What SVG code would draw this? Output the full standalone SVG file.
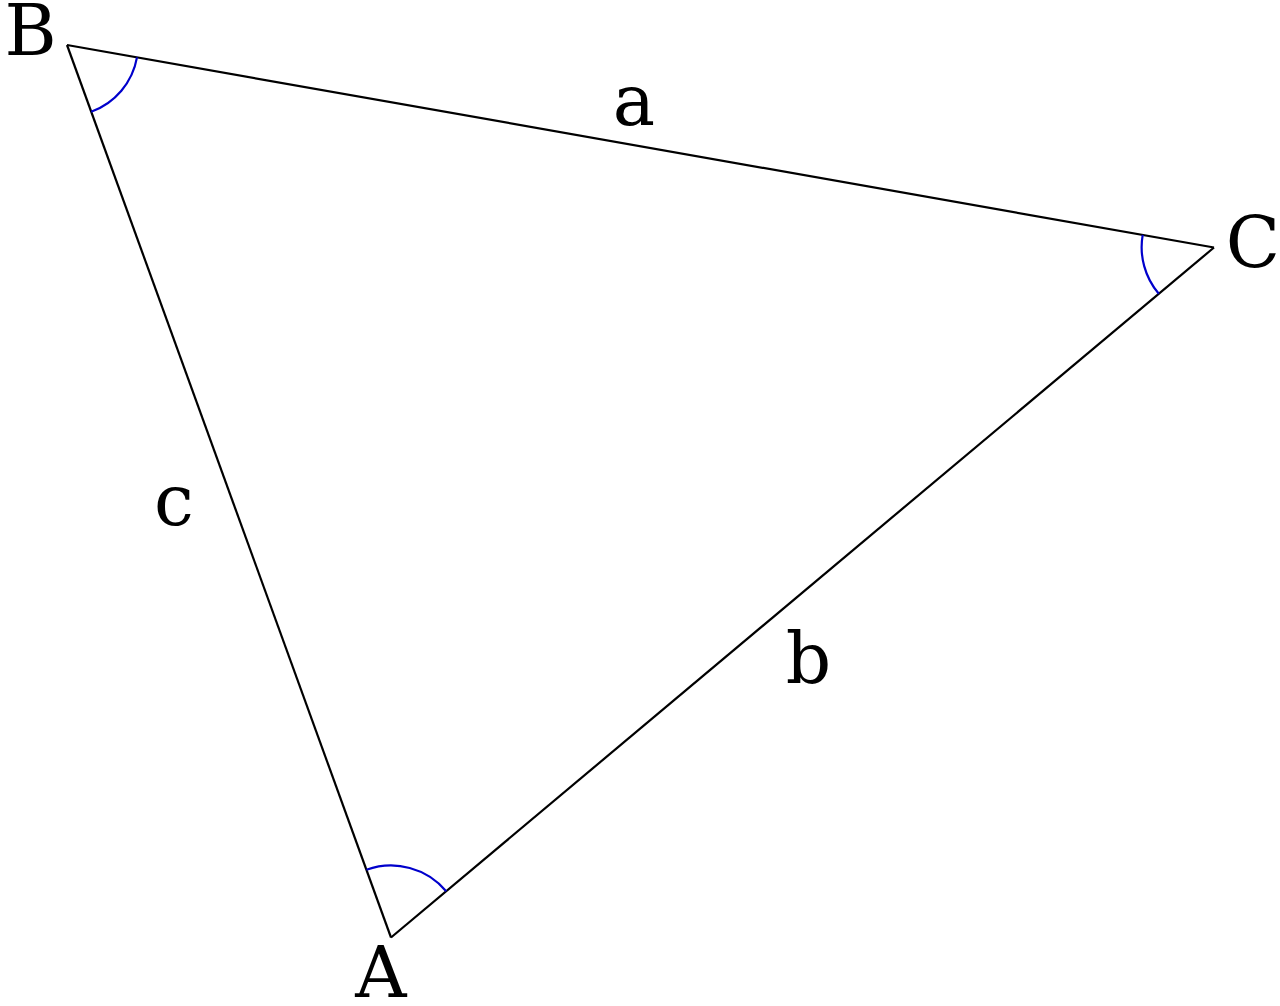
<svg xmlns="http://www.w3.org/2000/svg" width="1280" height="1006" viewBox="0 0 1280 1006">
<style>
.edge{fill:none;stroke:#000;stroke-width:2.2;stroke-linejoin:miter}
.ang{fill:none;stroke:#0000cc;stroke-width:2.2}
.lbl{font-family:"DejaVu Serif",serif;font-size:71px;fill:#000}
</style>
<rect width="1280" height="1006" fill="#fff"/>
<g id="connectors">
<path class="edge" d="M67,45 L1214,247.5"/>
<path class="edge" d="M1214,247.5 L391,937.5"/>
<path class="edge" d="M391,937.5 L67,45"/>
</g>
<g id="angle-B"><path class="ang" d="M137,57.4 A71,71 0 0 1 91.2,111.7"/></g>
<g id="angle-C"><path class="ang" d="M1142.7,234.9 A72,72 0 0 0 1158.8,293.8"/></g>
<g id="angle-A"><path class="ang" d="M366.5,869.8 A72,72 0 0 1 446.2,891.2"/></g>
<g id="node-B"><text class="lbl" x="30.5" y="55" text-anchor="middle">B</text></g>
<g id="node-C"><text class="lbl" x="1253" y="267" text-anchor="middle">C</text></g>
<g id="node-A"><text class="lbl" x="381" y="997" text-anchor="middle">A</text></g>
<g id="label-a"><text class="lbl" x="634" y="125" text-anchor="middle">a</text></g>
<g id="label-b"><text class="lbl" x="808.5" y="683" text-anchor="middle">b</text></g>
<g id="label-c"><text class="lbl" x="174" y="525" text-anchor="middle">c</text></g>
</svg>
